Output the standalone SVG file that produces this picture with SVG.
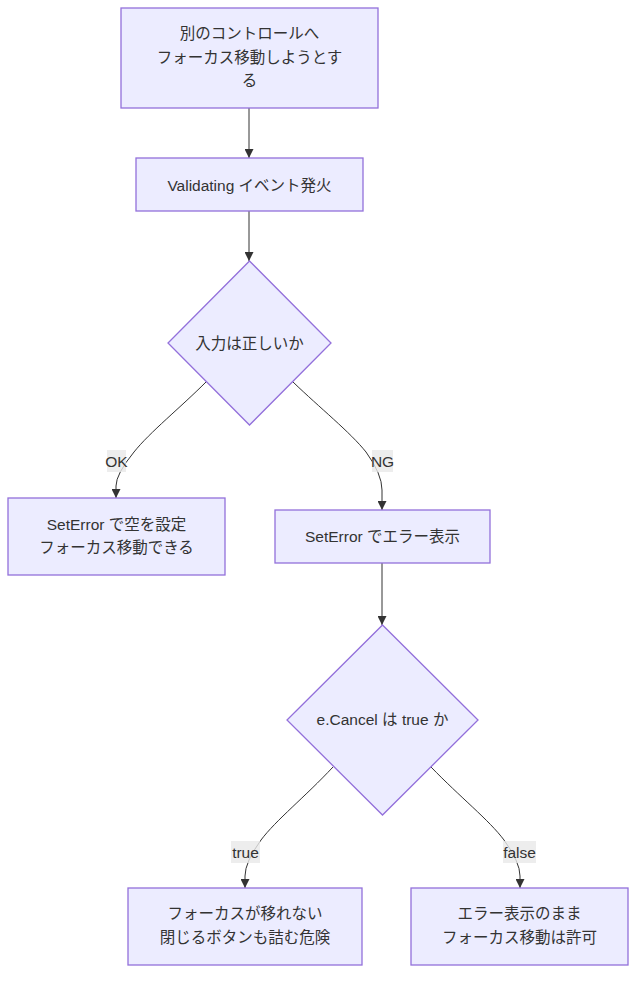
<svg xmlns="http://www.w3.org/2000/svg" width="644" height="986" viewBox="0 0 644 986">
<style>
.node rect,.node polygon{fill:#ECECFF;stroke:#9370DB;stroke-width:1.3}
text{font-family:"Liberation Sans","Noto Sans CJK JP",sans-serif;font-size:15.5px;fill:#333333;text-anchor:middle;dominant-baseline:central}
.edge{fill:none;stroke:#333333;stroke-width:1}
.lbl rect{fill:#E8E8E8;fill-opacity:0.8}
</style>
<defs>
<marker id="arr" viewBox="0 0 10 10" refX="10" refY="5" markerWidth="9" markerHeight="9" markerUnits="userSpaceOnUse" orient="auto">
<path d="M0,0 L10,5 L0,10 z" fill="#333333"/>
</marker>
</defs>
<rect width="644" height="986" fill="#ffffff"/>
<g id="edges">
<path class="edge" d="M249,108 L249,158" marker-end="url(#arr)"/>
<path class="edge" d="M249,211 L249,261" marker-end="url(#arr)"/>
<path class="edge" d="M206,382 C180,408 150,432 134,452 Q116,474 116,486 L116,498" marker-end="url(#arr)"/>
<path class="edge" d="M293,382 C320,408 350,432 366,452 Q382,474 382,490 L382,510" marker-end="url(#arr)"/>
<path class="edge" d="M382,563 L382,625" marker-end="url(#arr)"/>
<path class="edge" d="M333,767 C305,797 276,820 261,840 Q245,862 245,876 L245,888" marker-end="url(#arr)"/>
<path class="edge" d="M431,767 C460,797 489,820 504,840 Q520,862 520,876 L520,888" marker-end="url(#arr)"/>
<g class="lbl"><rect x="107" y="450" width="19" height="22"/><text x="116.5" y="461">OK</text></g>
<g class="lbl"><rect x="372" y="450" width="21" height="22"/><text x="382.5" y="461">NG</text></g>
<g class="lbl"><rect x="231" y="841" width="29" height="22"/><text x="245.5" y="852">true</text></g>
<g class="lbl"><rect x="503" y="841" width="33" height="22"/><text x="519.5" y="852">false</text></g>
</g>
<g id="n1" class="node"><rect x="121" y="8" width="257" height="100"/><text x="249.5" y="33">別のコントロールへ</text><text x="249.5" y="57">フォーカス移動しようとす</text><text x="249.5" y="80">る</text></g>
<g id="n2" class="node"><rect x="136" y="158" width="227" height="53"/><text x="249.5" y="185">Validating イベント発火</text></g>
<g id="d1" class="node"><polygon points="249.5,261 331,343 249.5,425 168,343"/><text x="249.5" y="343">入力は正しいか</text></g>
<g id="n3" class="node"><rect x="8" y="498" width="217" height="77"/><text x="116.5" y="524">SetError で空を設定</text><text x="116.5" y="547">フォーカス移動できる</text></g>
<g id="n4" class="node"><rect x="275" y="510" width="215" height="53"/><text x="382.5" y="536">SetError でエラー表示</text></g>
<g id="d2" class="node"><polygon points="382.5,625 478,720 382.5,815 287,720"/><text x="382.5" y="719">e.Cancel は true か</text></g>
<g id="n5" class="node"><rect x="128" y="888" width="234" height="77"/><text x="245" y="913">フォーカスが移れない</text><text x="245" y="937">閉じるボタンも詰む危険</text></g>
<g id="n6" class="node"><rect x="411" y="888" width="217" height="77"/><text x="519.5" y="913">エラー表示のまま</text><text x="519.5" y="937">フォーカス移動は許可</text></g>
</svg>
